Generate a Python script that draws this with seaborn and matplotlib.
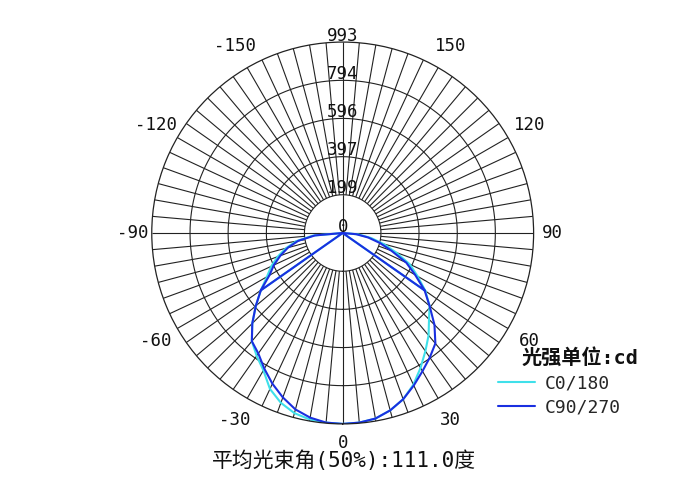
import numpy as np
import pandas as pd
import matplotlib
matplotlib.use("Agg")
import matplotlib.pyplot as plt
import seaborn as sns

# luminous intensity (cd) every 5 degrees, -90 .. 90 (0 = straight down)
angles = list(range(-90, 95, 5))
c0_180 = [0, 155, 245, 305, 360, 410, 455, 520, 590, 665, 735, 780, 825, 895, 940, 970, 985, 990, 993,
          990, 980, 955, 920, 870, 810, 750, 695, 635, 590, 525, 450, 385, 295, 220, 150, 80, 0]
c90_270 = [0, 145, 235, 295, 345, 395, 440, 520, 590, 665, 735, 765, 815, 865, 910, 950, 975, 990, 993,
           990, 980, 955, 920, 875, 830, 790, 750, 675, 590, 520, 435, 365, 270, 200, 135, 70, 0]
spike_angle = 55  # the plot software joins the centre to the +-55 deg points

series_names = ["C0/180", "C90/270"]
series_colors = ["#3fe0ea", "#1a2fe0"]

ring_values = [199, 397, 596, 794, 993]
ring_labels = ["199", "397", "596", "794", "993"]
angle_ticks = [0, 30, 60, 90, 120, 150, -150, -120, -90, -60, -30]

title_text = "平均光束角(50%):111.0度"
legend_title = "光强单位:cd"

# build long table
rows = []
for name, vals in zip(series_names, [c0_180, c90_270]):
    lookup = dict(zip(angles, vals))
    seq = [-spike_angle] + angles + [spike_angle]
    for i, a in enumerate(seq):
        rows.append({"series": name, "order": i, "theta": np.radians(a), "cd": lookup[a]})
df = pd.DataFrame(rows)

sns.set_style("white")
plt.rcParams["font.family"] = ["DejaVu Sans Mono", "Noto Sans CJK SC"]

fig = plt.figure(figsize=(6.93, 5.0), dpi=100)
ax = fig.add_axes([0.219, 0.152, 0.551, 0.764], projection="polar")
ax.set_theta_zero_location("S")
ax.set_theta_direction(1)
rmax = ring_values[-1]
ax.set_ylim(0, rmax)

# grid
grid_c = "#222222"
ax.grid(False)
ax.set_xticks([])
ax.set_yticks([])
spokes = np.radians(np.arange(0, 360, 5))
ax.vlines(spokes, ring_values[0], rmax, color=grid_c, lw=0.8)
ax.vlines(np.radians([0, 90, 180, 270]), 0, ring_values[0], color=grid_c, lw=0.8)
th = np.linspace(0, 2 * np.pi, 361)
for r in ring_values[:-1]:
    ax.plot(th, np.full_like(th, r), color=grid_c, lw=0.8)
ax.spines["polar"].set_color(grid_c)
ax.spines["polar"].set_linewidth(0.9)

# curves
sns.lineplot(data=df, x="theta", y="cd", hue="series", hue_order=series_names,
             palette=series_colors, sort=False, estimator=None, lw=1.5,
             legend=False, ax=ax)
ax.set_xlabel("")
ax.set_ylabel("")

# radial labels along the top
for r, lbl in zip([0] + ring_values, ["0"] + ring_labels):
    ax.annotate(lbl, (np.pi, r), xytext=(0, 1), textcoords="offset points",
                ha="center", va="baseline", fontsize=12.5, color="#111111")

# angle labels
for a in angle_ticks:
    lab_r = rmax * (1.10 if a in (0, 90, -90) else 1.13)
    ax.text(np.radians(a), lab_r, str(a), ha="center", va="center",
            fontsize=12.5, color="#111111", clip_on=False)

# legend
handles = [plt.Line2D([], [], color=c, lw=1.5) for c in series_colors]
leg = fig.legend(handles, series_names, loc="upper left",
                 bbox_to_anchor=(0.695, 0.284), frameon=False, fontsize=13,
                 handlelength=2.05, handletextpad=0.55, labelspacing=0.33)
fig.text(0.753, 0.284, legend_title, ha="left", va="center", fontsize=14.5,
         fontweight="bold", color="#111111")

fig.text(0.497, 0.078, title_text, ha="center", va="center", fontsize=15, color="#111111")

fig.savefig("out.png", dpi=100, facecolor="white")
